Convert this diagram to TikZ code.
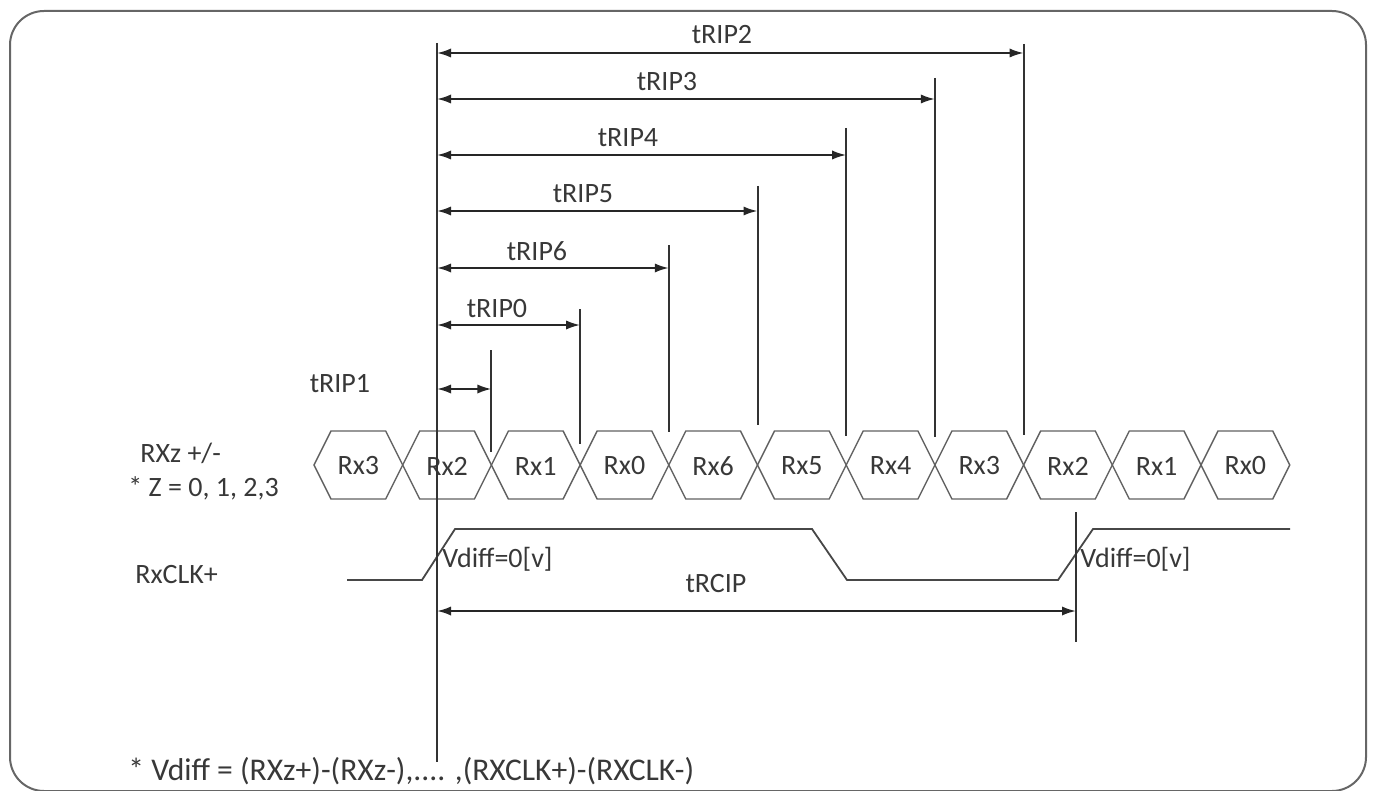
\documentclass[tikz,border=0pt]{standalone}
\usepackage{fontspec}
\setmainfont{Carlito}
\usetikzlibrary{arrows.meta,positioning,calc}

\tikzset{
	lbl/.style={text=black!78, font=\fontsize{14}{16}\selectfont, inner sep=0pt},
	edge/.style={draw=black!80, line width=1pt},
	dim/.style={draw=black!85, line width=1pt,
		{Latex[length=7pt,width=4.6pt]}-{Latex[length=7pt,width=4.6pt]}},
	hexline/.style={draw=black!62, line width=0.7pt},
	signal/.style={draw=black!72, line width=0.9pt},
}

\begin{document}
\begin{tikzpicture}[x=0.5pt,y=-0.5pt]
	\useasboundingbox (0,0) rectangle (1374,791);
	
	% Frame
	\draw[draw=black!60, line width=1pt, rounded corners=17pt] (10,11) rectangle (1366,791);
	
	% Data lanes (hexagon eye pattern)
	\foreach \k/\txt in {0/Rx3, 1/Rx2, 2/Rx1, 3/Rx0, 4/Rx6, 5/Rx5, 6/Rx4, 7/Rx3, 8/Rx2, 9/Rx1, 10/Rx0} {
		\pgfmathsetmacro{\xa}{314+88.7*\k}
		\pgfmathsetmacro{\xb}{314+88.7*(\k+1)}
		\draw[hexline] (\xa,465) -- (\xa+17,431) -- (\xb-17,431) -- (\xb,465)
			-- (\xb-17,499) -- (\xa+17,499) -- cycle;
		\node[lbl] (cell\k) at ({(\xa+\xb)/2},466) {\txt};
	}
	\node[lbl, anchor=base west] (lanename) at (140,462) {RXz +/-};
	\node[lbl, anchor=base west] (lanenote) at (128,496) {* Z = 0, 1, 2,3};
	
	% Clock lane
	\draw[signal] (347,580) -- (422,580) -- (455,529) -- (812,529) -- (847,580)
		-- (1058,580) -- (1093,529) -- (1290,529);
	\node[lbl, anchor=base west] (clkname) at (135,583) {RxCLK+};
	\node[lbl, anchor=base west] (vd1) at (442,567) {Vdiff=0[v]};
	\node[lbl, anchor=base west] (vd2) at (1080,567) {Vdiff=0[v]};
	
	% Reference edge
	\coordinate (ref top) at (437,43);
	\coordinate (ref bot) at (437,762);
	\draw[edge] (ref top) -- (ref bot);
	
	% Strobe positions
	\foreach \n/\x/\top/\bot/\y/\lx/\ly in {2/1023.6/44/435/53/722/44, 3/934.9/78/437/99/667/91,
		4/846.2/128/436/155/628/147, 5/757.5/186/425/211/583/203,
		6/668.8/245/432/268/537/260, 0/580.1/309/444/325/497/317, 1/491.4/350/452/389/340/392} {
		\coordinate (top\n) at (\x,\top);
		\coordinate (bot\n) at (\x,\bot);
		\draw[edge] (top\n) -- (bot\n);
		\coordinate (s\n) at (437,\y);
		\coordinate (e\n) at (\x,\y);
		\draw[dim] (s\n) -- (e\n);
		\node[lbl, anchor=base] (lbl\n) at (\lx,\ly) {tRIP\n};
	}
	
	% Clock period
	\coordinate (clk top) at (1076,512);
	\coordinate (clk bot) at (1076,642);
	\draw[edge] (clk top) -- (clk bot);
	\coordinate (p start) at (437,611);
	\coordinate (p end) at (1076,611);
	\draw[dim] (p start) -- (p end);
	\node[lbl, anchor=base] (period) at (716,592) {tRCIP};
	
	% Note
	\node[lbl, anchor=base west, font=\fontsize{15.8}{18}\selectfont] (note) at (128,780)
		{* Vdiff = (RXz+)-(RXz-),.... ,(RXCLK+)-(RXCLK-)};
\end{tikzpicture}
\end{document}
